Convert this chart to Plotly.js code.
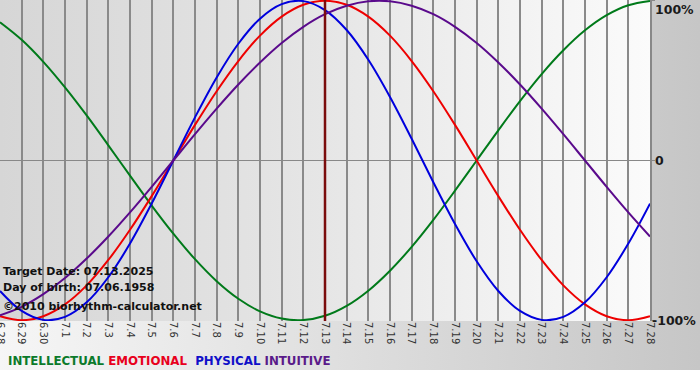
<!DOCTYPE html>
<html>
<head>
<meta charset="utf-8">
<script src="https://cdn.plot.ly/plotly-3.0.1.min.js"></script>
<style>
  html, body { margin: 0; padding: 0; background: #ffffff; }
  #wrap { position: relative; width: 700px; height: 380px; overflow: hidden; background: #ffffff; }
  #outerbg { position: absolute; left: 0; top: 0; width: 700px; height: 370px;
             background: linear-gradient(to right, #f6f6f6 0%, #c6c6c6 100%); }
  #plotbg { position: absolute; left: 0; top: 0; width: 650px; height: 321px;
            background: linear-gradient(to right, #d6d6d6 0%, #e6e6e6 50%, #fbfbfb 100%); }
  #chart { position: absolute; left: 0; top: 0; width: 700px; height: 380px; }
</style>
</head>
<body>
<div id="wrap">
  <div id="outerbg"></div>
  <div id="plotbg"></div>
  <div id="chart"></div>
</div>
<script>
// ---- data ----
var dates = ['6.28','6.29','6.30','7.1','7.2','7.3','7.4','7.5','7.6','7.7','7.8','7.9','7.10',
             '7.11','7.12','7.13','7.14','7.15','7.16','7.17','7.18','7.19','7.20','7.21','7.22',
             '7.23','7.24','7.25','7.26','7.27','7.28'];
var intellectual = [0.866,0.756,0.618,0.458,0.282,0.095,-0.095,-0.282,-0.458,-0.618,-0.756,-0.866,
                    -0.945,-0.990,-0.999,-0.972,-0.910,-0.815,-0.690,-0.541,-0.372,-0.189,0,0.189,
                    0.372,0.541,0.690,0.815,0.910,0.972,0.999];
var emotional = [-0.975,-1,-0.975,-0.901,-0.782,-0.623,-0.434,-0.223,0,0.223,0.434,0.623,0.782,
                 0.901,0.975,1,0.975,0.901,0.782,0.623,0.434,0.223,0,-0.223,-0.434,-0.623,-0.782,
                 -0.901,-0.975,-1,-0.975];
var physical = [-0.817,-0.942,-0.998,-0.979,-0.888,-0.731,-0.520,-0.270,0,0.270,0.520,0.731,0.888,
                0.979,0.998,0.942,0.817,0.631,0.398,0.136,-0.136,-0.398,-0.631,-0.817,-0.942,
                -0.998,-0.979,-0.888,-0.731,-0.520,-0.270];
var intuitive = [-0.969,-0.916,-0.837,-0.736,-0.614,-0.476,-0.325,-0.165,0,0.165,0.325,0.476,0.614,
                 0.736,0.837,0.916,0.969,0.997,0.997,0.969,0.916,0.837,0.736,0.614,0.476,0.325,
                 0.165,0,-0.165,-0.325,-0.476];
var seriesNames = ['INTELLECTUAL','EMOTIONAL','PHYSICAL','INTUITIVE'];
var targetDate = '7.13';
var yTickVals = [1, 0, -1];
var yTickLabels = ['100%', '0', '-100%'];
var infoLines = ['Target Date: 07.13.2025', 'Day of birth: 07.06.1958', '\u00a92010 biorhythm-calculator.net'];

// ---- styles ----
var colors = ['#007a1a', '#ee0000', '#0000dd', '#5a0a8c'];
var legendColors = ['#0b7a2a', '#e8001c', '#1010c8', '#5a1a8a'];
var FONT = 'DejaVu Sans, Verdana, sans-serif';
var plotH = 321, plotTop = 0;
function py(p) { return (plotTop + plotH - p) / plotH; }

var seriesData = [intellectual, emotional, physical, intuitive];
var traces = seriesData.map(function (ys, i) {
  return {
    x: dates, y: ys, type: 'scatter', mode: 'lines', name: seriesNames[i],
    line: { color: colors[i], width: 2, shape: 'spline', smoothing: 1 },
    hoverinfo: 'skip'
  };
});
traces.push({
  x: [targetDate, targetDate], y: [yTickVals[2] * 1.01, yTickVals[0] * 1.01],
  type: 'scatter', mode: 'lines', line: { color: '#7a0c0c', width: 2.5 }, hoverinfo: 'skip'
});

var annotations = [];
infoLines.forEach(function (t, i) {
  var ys = [271, 287, 306];
  annotations.push({
    text: t, xref: 'paper', yref: 'paper', x: 0, xanchor: 'left', xshift: 1,
    y: py(ys[i]), yanchor: 'middle', showarrow: false,
    font: { family: FONT, size: 11, color: '#111111', weight: 'bold' }
  });
});
var legendHtml = seriesNames.map(function (n, i) {
  return '<span style="color:' + legendColors[i] + '">' + n + '</span>';
});
annotations.push({
  text: legendHtml[0] + ' ' + legendHtml[1] + '&nbsp; ' + legendHtml[2] + ' ' + legendHtml[3],
  xref: 'paper', yref: 'paper', x: 0, xanchor: 'left', xshift: 6,
  y: py(361), yanchor: 'middle', showarrow: false,
  font: { family: FONT, size: 11.8, weight: 'bold' }
});
yTickVals.forEach(function (v, i) {
  annotations.push({
    text: yTickLabels[i], xref: 'paper', yref: 'y', x: 1, xanchor: 'left', xshift: i === 2 ? 0 : 3,
    y: v, yanchor: i === 0 ? 'top' : 'middle', yshift: i === 0 ? 1 : 0, showarrow: false,
    font: { family: FONT, size: 12.5, color: '#1a1a1a', weight: 'bold' }
  });
});

var layout = {
  width: 700, height: 380,
  margin: { l: 0, r: 50, t: plotTop, b: 380 - plotH, pad: 0 },
  paper_bgcolor: 'rgba(0,0,0,0)', plot_bgcolor: 'rgba(0,0,0,0)',
  showlegend: false,
  xaxis: {
    type: 'category', range: [0, dates.length - 1],
    showgrid: true, gridcolor: '#8a8a8a', gridwidth: 1.8,
    zeroline: false, showline: false, ticks: '',
    tickangle: 90, tickfont: { family: FONT, size: 10, color: '#333333' },
    fixedrange: true
  },
  yaxis: {
    range: [-1.005, 1.005], side: 'right', showgrid: false,
    zeroline: true, zerolinecolor: '#888888', zerolinewidth: 1.5,
    showline: true, linecolor: '#888888', linewidth: 1.5,
    tickvals: yTickVals, showticklabels: false, ticks: 'outside', ticklen: 3,
    tickcolor: '#888888', fixedrange: true
  },
  annotations: annotations
};

Plotly.newPlot('chart', traces, layout, { staticPlot: true, displayModeBar: false });
</script>
</body>
</html>
